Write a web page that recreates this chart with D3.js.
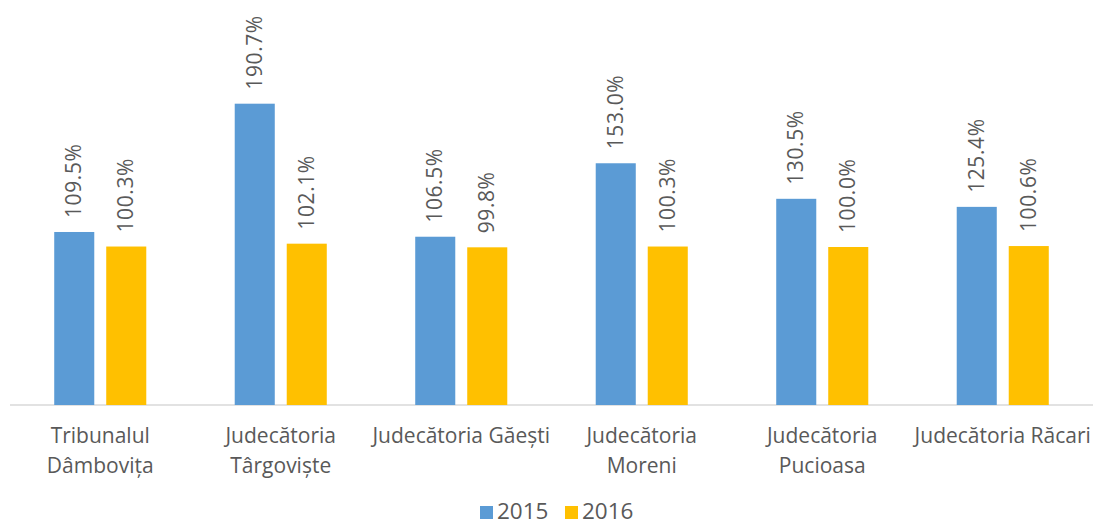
<!DOCTYPE html>
<html>
<head>
<meta charset="utf-8">
<script src="https://cdn.jsdelivr.net/npm/d3@7"></script>
<style>
  body { margin: 0; background: white; }
  text { font-family: "Open Sans", sans-serif; fill: #595959; }
</style>
</head>
<body>
<script>
// categorii (fiecare linie a etichetei separat)
const categories = [
    ["Tribunalul", "Dâmbovița"],
    ["Judecătoria", "Târgoviște"],
    ["Judecătoria Găești"],
    ["Judecătoria", "Moreni"],
    ["Judecătoria", "Pucioasa"],
    ["Judecătoria Răcari"]
];
const years = ["2015", "2016"];
const values2015 = [109.5, 190.7, 106.5, 153.0, 130.5, 125.4];
const values2016 = [100.3, 102.1, 99.8, 100.3, 100.0, 100.6];
const colors = ["#5B9BD5", "#FFC000"];

const width = 1095, height = 526;
const svg = d3.select("body").append("svg").attr("width", width).attr("height", height);

const keys = categories.map((c, i) => i);
const x0 = d3.scaleBand().domain(keys).range([10, 1093]).paddingInner(0.49).paddingOuter(0.245);
const x1 = d3.scaleBand().domain(years).range([0, x0.bandwidth()]).paddingInner(0.23);
const y = d3.scaleLinear().domain([0, 200]).range([405, 89]);

const data = keys.map(i => ({i: i, vals: [values2015[i], values2016[i]]}));

// axa orizontala
svg.append("line")
    .attr("x1", 10).attr("x2", 1093)
    .attr("y1", y(0)).attr("y2", y(0))
    .attr("stroke", "#D9D9D9").attr("stroke-width", 1.5);

const groups = svg.selectAll("g.grp").data(data).join("g")
    .attr("class", "grp")
    .attr("transform", d => `translate(${x0(d.i)},0)`);

groups.selectAll("rect").data(d => d.vals.map((v, k) => ({k: k, v: v}))).join("rect")
    .attr("x", d => x1(years[d.k]))
    .attr("y", d => y(d.v))
    .attr("width", x1.bandwidth())
    .attr("height", d => y(0) - y(d.v))
    .attr("fill", d => colors[d.k]);

// etichete valori (rotite)
groups.selectAll("text.val").data(d => d.vals.map((v, k) => ({k: k, v: v}))).join("text")
    .attr("class", "val")
    .attr("transform", d => `translate(${x1(years[d.k]) + x1.bandwidth() / 2 + 7},${y(d.v) - 14}) rotate(-90)`)
    .attr("font-size", "21px")
    .attr("letter-spacing", "0.6px")
    .text(d => d.v.toFixed(1) + "%");

// etichete categorii
const catLabels = svg.selectAll("text.cat").data(data).join("text")
    .attr("class", "cat")
    .attr("text-anchor", "middle")
    .attr("font-size", "21px");
catLabels.selectAll("tspan").data(d => categories[d.i].map(t => ({t: t, x: x0(d.i) + x0.bandwidth() / 2}))).join("tspan")
    .attr("x", d => d.x)
    .attr("y", (d, j) => 443 + j * 30)
    .text(d => d.t);

// legenda
const legend = svg.append("g");
const legX = [480, 565];
years.forEach((yr, k) => {
    legend.append("rect").attr("x", legX[k]).attr("y", 506).attr("width", 13).attr("height", 13).attr("fill", colors[k]);
    legend.append("text").attr("x", legX[k] + 17).attr("y", 519).attr("font-size", "22.5px").text(yr);
});
</script>
</body>
</html>
